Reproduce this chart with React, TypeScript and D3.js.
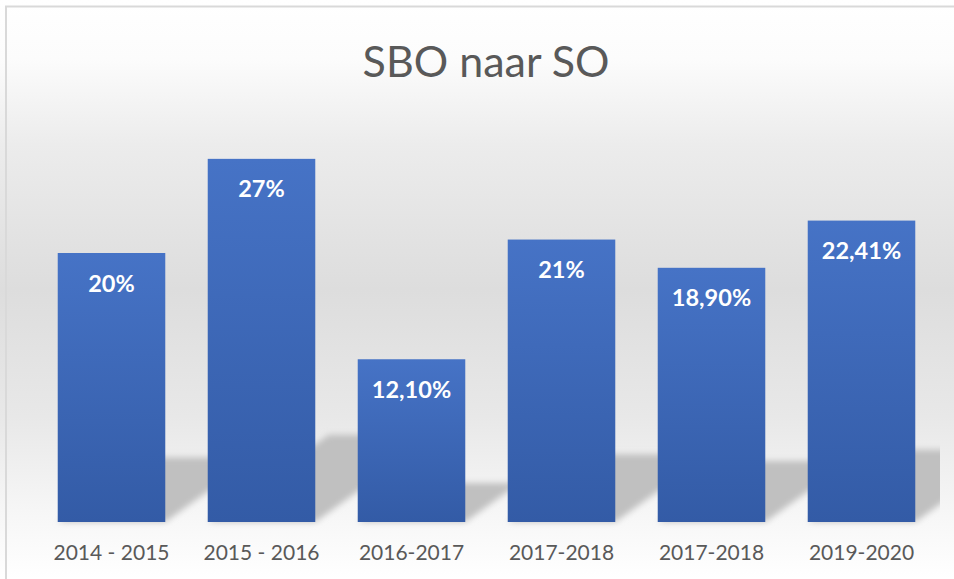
import React from "react";
import * as d3 from "d3";

const categories = ["2014 - 2015", "2015 - 2016", "2016-2017", "2017-2018", "2017-2018", "2019-2020"];
const values = [20, 27, 12.1, 21, 18.9, 22.41];
const valueLabels = ["20%", "27%", "12,10%", "21%", "18,90%", "22,41%"];
const title = "SBO naar SO";

const W = 954;
const H = 579;
const FONT = "Lato, 'Open Sans', sans-serif";

export default function App() {
  const x = d3
    .scaleBand<number>()
    .domain(d3.range(categories.length))
    .range([36.5, 936.5])
    .paddingInner(0.283)
    .paddingOuter(0.1415);
  const y = d3.scaleLinear().domain([0, 30]).range([522, 118.5]);
  const y0 = y(0);

  return (
    <svg
      width={W}
      height={H}
      style={{ position: "absolute", left: 0, top: 0 }}
      xmlns="http://www.w3.org/2000/svg"
    >
      <defs>
        <linearGradient id="bg" x1="0" y1="0" x2="0" y2="1">
          <stop offset="0" stopColor="#ffffff" />
          <stop offset="0.1" stopColor="#fcfcfc" />
          <stop offset="0.25" stopColor="#ececec" />
          <stop offset="0.5" stopColor="#dddddd" />
          <stop offset="0.72" stopColor="#e8e8e8" />
          <stop offset="0.88" stopColor="#f6f6f6" />
          <stop offset="1" stopColor="#ffffff" />
        </linearGradient>
        <linearGradient id="bar" x1="0" y1="0" x2="0" y2="1">
          <stop offset="0" stopColor="#4673c6" />
          <stop offset="1" stopColor="#335ba6" />
        </linearGradient>
        <filter id="blur" x="-20%" y="-40%" width="140%" height="180%">
          <feGaussianBlur stdDeviation="3" />
        </filter>
        <clipPath id="plotClip">
          <rect x={0} y={0} width={940} height={H} />
        </clipPath>
      </defs>
      <rect x={0} y={0} width={W} height={H} fill="url(#bg)" />
      <rect x={6} y={6.5} width={W + 20} height={H + 20} fill="none" stroke="#d9d9d9" strokeWidth={2} />

      <text
        x={486}
        y={77}
        textAnchor="middle"
        fontFamily={FONT}
        fontSize={43}
        fill="#595959"
      >
        {title}
      </text>

      <g clipPath="url(#plotClip)">
        {values.map((v, i) => {
          const x0 = x(i)!;
          const x1 = x0 + x.bandwidth();
          const h = y0 - y(v);
          const sh = h * 0.24;
          const s = sh / 0.72;
          const pts = [
            [x0, y0],
            [x1, y0],
            [x1 + s, y0 - sh],
            [x0 + s, y0 - sh],
          ]
            .map((p) => p.join(","))
            .join(" ");
          return <polygon key={"s" + i} points={pts} fill="#c0c0c0" filter="url(#blur)" />;
        })}
      </g>

      {values.map((v, i) => (
        <rect
          key={"b" + i}
          x={x(i)}
          y={y(v)}
          width={x.bandwidth()}
          height={y0 - y(v)}
          fill="url(#bar)"
        />
      ))}

      {values.map((v, i) => (
        <text
          key={"l" + i}
          x={x(i)! + x.bandwidth() / 2}
          y={y(v) + 38.5}
          textAnchor="middle"
          fontFamily={FONT}
          fontWeight="bold"
          fontSize={23.5}
          fill="#ffffff"
        >
          {valueLabels[i]}
        </text>
      ))}

      {categories.map((c, i) => (
        <text
          key={"c" + i}
          x={x(i)! + x.bandwidth() / 2}
          y={560}
          textAnchor="middle"
          fontFamily={FONT}
          fontSize={21}
          fill="#595959"
        >
          {c}
        </text>
      ))}
    </svg>
  );
}
